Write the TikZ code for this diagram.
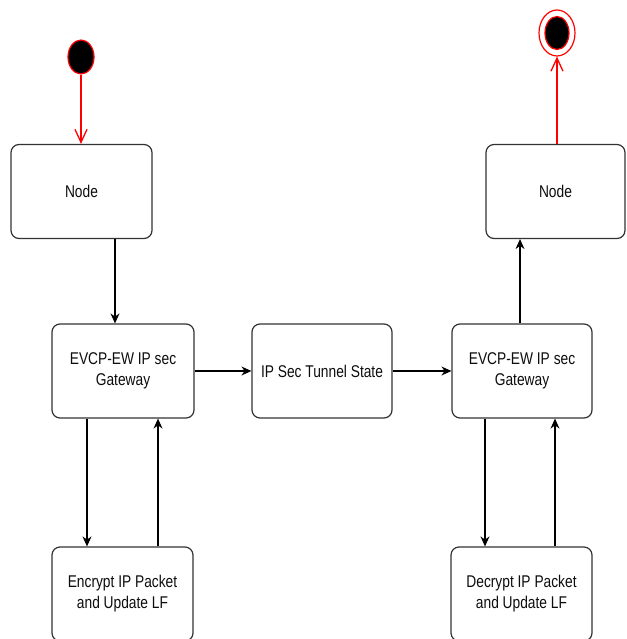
\documentclass[tikz,border=0pt]{standalone}
\usepackage{fontspec}
\setmainfont{Liberation Sans}[FakeStretch=0.81]
\usetikzlibrary{arrows.meta,shapes.geometric}

\begin{document}
\begin{tikzpicture}[x=1pt,y=-1pt,
  state/.style={draw=black!80,line width=1.2pt,rounded corners=8pt,minimum width=141pt,minimum height=94pt,inner sep=0pt,align=center,text=black!95,font=\fontsize{17}{21}\selectfont},
  pseudo/.style={ellipse,draw=red,line width=1.2pt,inner sep=0pt},
  flow/.style={line width=1.2pt,-{Stealth[length=10pt,width=9pt]}},
  redflow/.style={draw=red,line width=1.3pt,-{Straight Barb[length=13pt,width=12pt]}}]
\useasboundingbox (0,0) rectangle (626,639);

\node[pseudo,fill=black,minimum width=26pt,minimum height=34pt](start) at (81,57) {};
\node[pseudo,fill=white,minimum width=36pt,minimum height=46pt](endo) at (557,33) {};
\node[pseudo,fill=black,minimum width=24pt,minimum height=33pt](endi) at (557,33) {};

\node[state](nodeA) at (81.5,191.5) {Node};
\node[state,minimum width=139pt](nodeB) at (555.5,191.5) {Node};
\node[state,minimum width=142pt](gwA) at (123,371) {EVCP-EW IP sec\\Gateway};
\node[state,minimum width=140pt](tunnel) at (322,371) {IP Sec Tunnel State};
\node[state,minimum width=140pt](gwB) at (522,371) {EVCP-EW IP sec\\Gateway};
\node[state](encrypt) at (122.5,594) {Encrypt IP Packet\\and Update LF};
\node[state](decrypt) at (521.5,594) {Decrypt IP Packet\\and Update LF};

\draw[redflow] (start.south) -- (start.south |- nodeA.north);
\draw[redflow] (endo.south |- nodeB.north) -- (endo.south);
\draw[flow] ([xshift=33.5pt]nodeA.south) -- ([xshift=33.5pt]nodeA.south |- gwA.north);
\draw[flow] (gwA.east) -- (tunnel.west);
\draw[flow] (tunnel.east) -- (gwB.west);
\draw[flow] ([xshift=-2pt]gwB.north) -- ([xshift=-2pt]gwB.north |- nodeB.south);
\draw[flow] ([xshift=-35.5pt]gwA.south -| encrypt.north) -- ([xshift=-35.5pt]encrypt.north);
\draw[flow] ([xshift=35.5pt]encrypt.north) -- ([xshift=35.5pt]encrypt.north |- gwA.south);
\draw[flow] ([xshift=-36.5pt]gwB.south -| decrypt.north) -- ([xshift=-36.5pt]decrypt.north);
\draw[flow] ([xshift=33.5pt]decrypt.north) -- ([xshift=33.5pt]decrypt.north |- gwB.south);
\end{tikzpicture}
\end{document}
